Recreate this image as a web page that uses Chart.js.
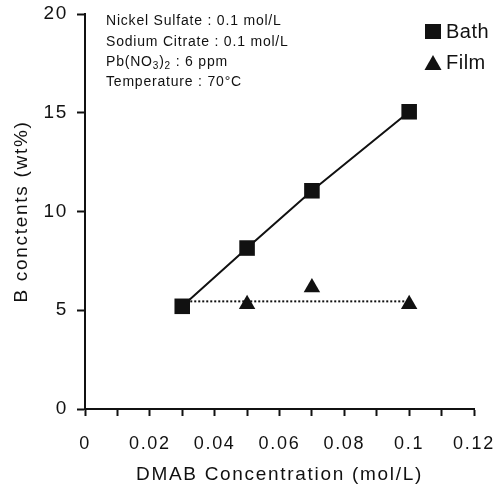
<!DOCTYPE html>
<html>
<head>
<meta charset="utf-8">
<script src="https://cdn.jsdelivr.net/npm/chart.js@4/dist/chart.umd.min.js"></script>
<style>
  html, body { margin: 0; padding: 0; background: #fff; }
  canvas { display: block; }
</style>
</head>
<body>
<canvas id="c" width="503" height="487"></canvas>
<script>
// DMAB concentration (mol/L)
const bathX = [0.03, 0.05, 0.07, 0.1];
const bathY = [5.2, 8.15, 11.05, 15.05];
const filmX = [0.05, 0.07, 0.1];
const filmY = [5.3, 6.15, 5.3];
// dotted level through the film values
const filmLineX = [0.03, 0.1];
const filmLineY = [5.45, 5.45];

const notes = [
  'Nickel Sulfate : 0.1 mol/L',
  'Sodium Citrate : 0.1 mol/L',
  'Pb(NO3)2 : 6 ppm',
  'Temperature : 70\u00B0C'
];
const yTitle = 'B conctents (wt%)';
const xTitle = 'DMAB Concentration (mol/L)';

const FONT = '"Liberation Sans", Arial, Helvetica, sans-serif';
const INK = '#111';

const pts = (xs, ys) => xs.map((x, i) => ({x: x, y: ys[i]}));

// the scanned lettering is a bit wider than Arial, so space the axis text out
const spacing = {
  id: 'spacing',
  beforeDraw(chart) { chart.ctx.letterSpacing = '1.7px'; },
  beforeDatasetsDraw(chart) { chart.ctx.letterSpacing = '0px'; }
};

// annotation block and legend drawn on top
const extras = {
  id: 'extras',
  afterDraw(chart) {
    const ctx = chart.ctx;
    ctx.save();
    ctx.fillStyle = INK;
    ctx.textBaseline = 'middle';
    ctx.textAlign = 'left';

    // notes
    const nx = 106, ny = [21, 42, 62, 82];
    ctx.letterSpacing = '0.8px';
    ctx.font = '14px ' + FONT;
    notes.forEach((t, i) => {
      if (t.indexOf('Pb(NO3)2') === 0) {
        let x = nx;
        const parts = [['Pb(NO', 0], ['3', 1], [')', 0], ['2', 1], [t.slice(8), 0]];
        parts.forEach(p => {
          ctx.font = (p[1] ? '10px ' : '14px ') + FONT;
          ctx.fillText(p[0], x, ny[i] + (p[1] ? 4 : 0));
          x += ctx.measureText(p[0]).width;
        });
        ctx.font = '14px ' + FONT;
      } else {
        ctx.fillText(t, nx, ny[i]);
      }
    });

    // legend
    const ds = chart.data.datasets;
    ctx.letterSpacing = '0.5px';
    ctx.font = '20px ' + FONT;
    ctx.fillRect(425, 24, 16, 15);
    ctx.fillText(ds[0].label, 446, 32);
    ctx.beginPath();
    ctx.moveTo(433, 55);
    ctx.lineTo(441.5, 70);
    ctx.lineTo(424.5, 70);
    ctx.closePath();
    ctx.fill();
    ctx.fillText(ds[1].label, 446, 63);
    ctx.restore();
  }
};

new Chart(document.getElementById('c'), {
  type: 'scatter',
  data: {
    datasets: [
      {
        label: 'Bath',
        data: pts(bathX, bathY),
        showLine: true,
        borderColor: INK,
        borderWidth: 2,
        backgroundColor: INK,
        pointStyle: 'rect',
        pointRadius: 11,
        pointHoverRadius: 11,
        pointBorderWidth: 0
      },
      {
        label: 'Film',
        data: pts(filmX, filmY),
        showLine: false,
        backgroundColor: INK,
        borderColor: INK,
        pointStyle: 'triangle',
        pointRadius: 9.5,
        pointHoverRadius: 9.5,
        pointBorderWidth: 0
      },
      {
        label: 'Film level',
        data: pts(filmLineX, filmLineY),
        showLine: true,
        borderColor: INK,
        borderWidth: 2,
        borderDash: [2, 2],
        pointRadius: 0
      }
    ]
  },
  options: {
    responsive: false,
    animation: false,
    events: [],
    layout: { padding: { top: 14, right: 29, left: 0, bottom: 0 } },
    plugins: {
      legend: { display: false },
      tooltip: { enabled: false }
    },
    scales: {
      x: {
        type: 'linear',
        min: 0,
        max: 0.12,
        afterFit(s) { s.height = 78; s.paddingLeft = 0; s.paddingRight = 0; },
        border: { display: true, color: INK, width: 2 },
        grid: { drawOnChartArea: false, drawTicks: true, tickLength: 7, tickColor: INK, tickWidth: 2 },
        ticks: {
          stepSize: 0.01,
          color: INK,
          padding: 17,
          maxRotation: 0,
          autoSkip: false,
          font: { family: FONT, size: 18 },
          callback: (v, i) => i % 2 === 0 ? String(Math.round(v * 100) / 100) : ''
        },
        title: {
          display: true,
          text: xTitle,
          color: INK,
          font: { family: FONT, size: 19 },
          padding: { top: 0, bottom: 1 }
        }
      },
      y: {
        min: 0,
        max: 20,
        afterFit(s) { s.width = 85; s.paddingTop = 0; s.paddingBottom = 0; },
        border: { display: true, color: INK, width: 2 },
        grid: { drawOnChartArea: false, drawTicks: true, tickLength: 8, tickColor: INK, tickWidth: 2 },
        ticks: {
          stepSize: 5,
          color: INK,
          padding: 9,
          font: { family: FONT, size: 19 }
        },
        title: {
          display: true,
          text: yTitle,
          color: INK,
          font: { family: FONT, size: 19 },
          padding: { top: 10, bottom: 0 }
        }
      }
    }
  },
  plugins: [spacing, extras]
});
</script>
</body>
</html>
